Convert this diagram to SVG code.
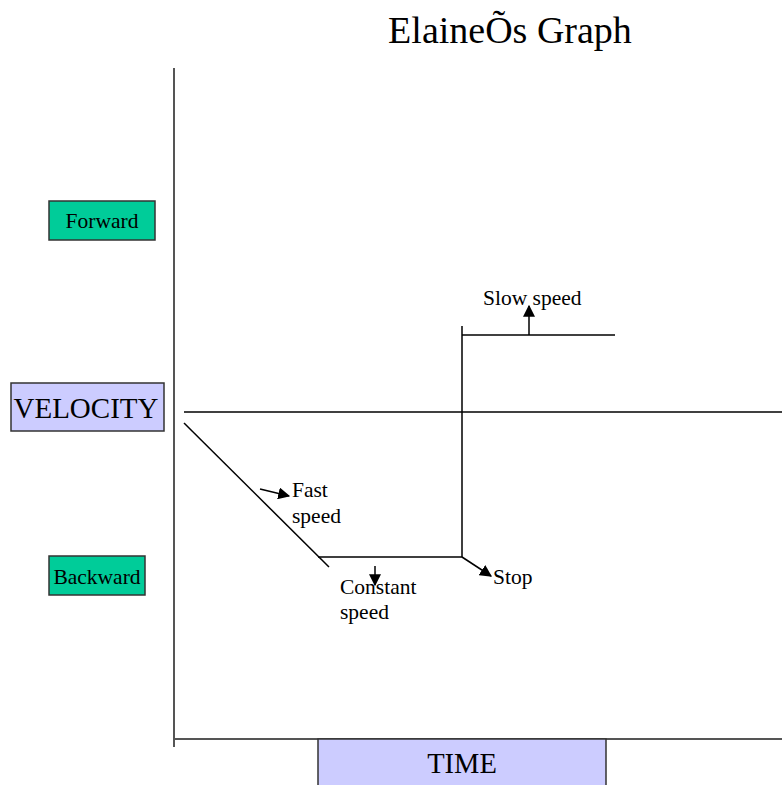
<svg xmlns="http://www.w3.org/2000/svg" width="782" height="785" viewBox="0 0 782 785">
<style>
text{font-family:"Liberation Serif","Times New Roman",serif;fill:#000}
.axis{stroke:#555;stroke-width:2;fill:none}
.ln{stroke:#000;stroke-width:1.5;fill:none}
.green{fill:#00CC99;stroke:#333;stroke-width:1.5}
.blue{fill:#CCCCFF;stroke:#333;stroke-width:1.5}
.lbl{font-size:21.5px}
</style>
<defs>
<marker id="ah2" viewBox="0 0 10 10" refX="9" refY="5" markerWidth="12" markerHeight="12" markerUnits="userSpaceOnUse" orient="auto"><path d="M0,0 L10,5 L0,10 z" fill="#000"/></marker>
</defs>
<text x="510" y="43" font-size="38" text-anchor="middle">ElaineÕs Graph</text>
<g id="connectors">
<line class="axis" x1="174" y1="68" x2="174" y2="747"/>
<line class="axis" x1="174" y1="739" x2="782" y2="739"/>
<line class="ln" x1="184" y1="412" x2="782" y2="412"/>
<polyline class="ln" points="184,423 329,567"/>
<polyline class="ln" points="318,557 462,557 462,326"/>
<line class="ln" x1="462" y1="335" x2="615" y2="335"/>
<line class="ln" x1="260" y1="489" x2="289" y2="496" marker-end="url(#ah2)"/>
<line class="ln" x1="375" y1="566" x2="375" y2="585" marker-end="url(#ah2)"/>
<line class="ln" x1="462" y1="557" x2="491" y2="576" marker-end="url(#ah2)"/>
<line class="ln" x1="529" y1="335" x2="529" y2="306" marker-end="url(#ah2)"/>
</g>
<g id="forward"><rect class="green" x="49" y="201" width="106" height="39"/><text class="lbl" x="102" y="228" text-anchor="middle">Forward</text></g>
<g id="velocity"><rect class="blue" x="11" y="383" width="153" height="48"/><text x="86" y="418" font-size="29" text-anchor="middle">VELOCITY</text></g>
<g id="backward"><rect class="green" x="49" y="556" width="96" height="39"/><text class="lbl" x="97" y="584" text-anchor="middle">Backward</text></g>
<g id="time"><rect class="blue" x="318" y="739" width="288" height="50"/><text x="462" y="773" font-size="28.5" text-anchor="middle">TIME</text></g>
<g id="fast"><text class="lbl" x="292" y="497">Fast</text><text class="lbl" x="292" y="523">speed</text></g>
<g id="constant"><text class="lbl" x="340" y="594">Constant</text><text class="lbl" x="340" y="619">speed</text></g>
<g id="stop"><text class="lbl" x="493" y="584">Stop</text></g>
<g id="slow"><text class="lbl" x="483" y="305">Slow speed</text></g>
</svg>
